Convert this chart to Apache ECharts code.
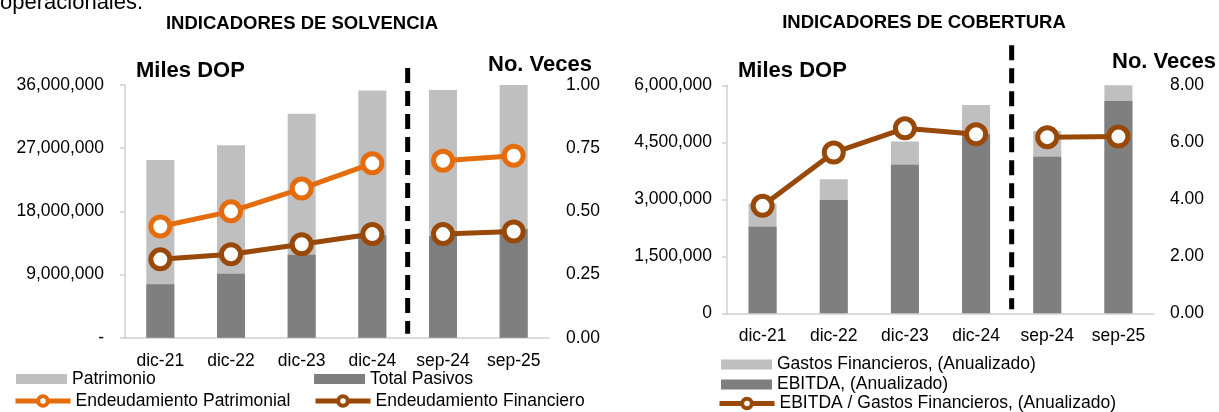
<!DOCTYPE html>
<html>
<head>
<meta charset="utf-8">
<title>Indicadores de solvencia y cobertura</title>
<script src="https://cdn.jsdelivr.net/npm/echarts@6/dist/echarts.min.js"></script>
<style>
    html, body { margin: 0; padding: 0; background: #fff; }
    #div_chart { width: 1219px; height: 412px; }
</style>
</head>
<body>
<div id="div_chart"></div>
<script>
// periodos (los dos ultimos son interinos a septiembre)
var categorias = ['dic-21', 'dic-22', 'dic-23', 'dic-24', 'sep-24', 'sep-25'];

// solvencia, miles DOP y no. veces
var patrimonio = [25300000, 27400000, 31900000, 35200000, 35300000, 36000000];
var totalPasivos = [7600000, 9100000, 11800000, 14600000, 14500000, 15500000];
var endeudamientoPatrimonial = [0.44, 0.50, 0.59, 0.69, 0.70, 0.72];
var endeudamientoFinanciero = [0.31, 0.33, 0.37, 0.41, 0.41, 0.42];

// cobertura, miles DOP y no. veces
var gastosFinancieros = [2890000, 3530000, 4520000, 5480000, 4800000, 6000000];
var ebitda = [2280000, 2980000, 3910000, 4710000, 4120000, 5590000];
var ebitdaGastos = [3.77, 5.64, 6.49, 6.28, 6.18, 6.20];

// marcas de los ejes
var ticksSolvMiles = [0, 9000000, 18000000, 27000000, 36000000];
var ticksSolvVeces = [0, 0.25, 0.5, 0.75, 1];
var ticksCobMiles = [0, 1500000, 3000000, 4500000, 6000000];
var ticksCobVeces = [0, 2, 4, 6, 8];

var FONT = '"Liberation Sans", Arial, sans-serif';
var GRIS_CLARO = '#BFBFBF';
var GRIS_OSCURO = '#7F7F7F';
var NARANJA = '#E46C0A';
var MARRON = '#984807';
var EJE = '#D0D0D0';

// ultimo cierre anual, despues va la linea punteada
var corte = categorias.indexOf('dic-24');

var tramo = function (vals, anual) {
    return vals.map(function (v, i) {
        return (anual ? i <= corte : i > corte) ? v : '-';
    });
};

var miles = function (v) {
    return v.toLocaleString('en-US');
};

var ejeX = function (grid) {
    return {
        type: 'category',
        gridIndex: grid,
        data: categorias,
        axisLine: { lineStyle: { color: EJE, width: 1.5 } },
        axisTick: { alignWithLabel: true, length: 5, lineStyle: { color: EJE, width: 1.5 } },
        axisLabel: { color: '#000', fontSize: 17.5, fontFamily: FONT, margin: 14 }
    };
};

var ejeY = function (grid, ticks, formatter, margin) {
    return {
        type: 'value',
        gridIndex: grid,
        min: ticks[0],
        max: ticks[ticks.length - 1],
        interval: ticks[1] - ticks[0],
        splitLine: { show: false },
        axisLine: { show: true, lineStyle: { color: EJE, width: 1.5 } },
        axisTick: { show: true, length: 5, lineStyle: { color: EJE, width: 1.5 } },
        axisLabel: { color: '#000', fontSize: 17.5, fontFamily: FONT, margin: margin, formatter: formatter }
    };
};

var ejeYDer = function (grid, ticks, margin) {
    return {
        type: 'value',
        gridIndex: grid,
        position: 'right',
        min: ticks[0],
        max: ticks[ticks.length - 1],
        interval: ticks[1] - ticks[0],
        splitLine: { show: false },
        axisLine: { show: false },
        axisTick: { show: false },
        axisLabel: {
            color: '#000', fontSize: 17.5, fontFamily: FONT, margin: margin,
            formatter: function (v) { return v.toFixed(2); }
        }
    };
};

var barra = function (name, data, color, grid) {
    return {
        name: name,
        type: 'bar',
        xAxisIndex: grid,
        yAxisIndex: grid * 2,
        data: data,
        barWidth: 28,
        barGap: '-100%',
        itemStyle: { color: color },
        emphasis: { disabled: true }
    };
};

var linea = function (name, data, color, grid) {
    return {
        name: name,
        type: 'line',
        xAxisIndex: grid,
        yAxisIndex: grid * 2 + 1,
        data: data,
        symbol: 'circle',
        symbolSize: 19,
        lineStyle: { color: color, width: 5 },
        itemStyle: { color: '#fff', borderColor: color, borderWidth: 5 },
        z: 4,
        emphasis: { disabled: true }
    };
};

// linea punteada entre el ultimo cierre y los interinos
var separador = function (grid, sobre) {
    return {
        type: 'custom',
        xAxisIndex: grid,
        yAxisIndex: grid * 2,
        data: [[corte, 0]],
        silent: true,
        z: 5,
        renderItem: function (params, api) {
            var cs = params.coordSys;
            var i = api.value(0);
            var x = (api.coord([i, 0])[0] + api.coord([i + 1, 0])[0]) / 2;
            return {
                type: 'line',
                shape: { x1: x, y1: cs.y - sobre, x2: x, y2: cs.y + cs.height - 4 },
                style: { stroke: '#000', lineWidth: 5, lineDash: [15, 8] }
            };
        }
    };
};

var leyenda = function (name, left, top, line) {
    var l = {
        data: [name],
        left: left,
        top: top,
        padding: 0,
        itemGap: 0,
        itemWidth: line ? 55 : 51,
        itemHeight: line ? 12 : 10,
        selectedMode: false,
        textStyle: { color: '#000', fontSize: 17.5, fontFamily: FONT }
    };
    if (line) {
        l.lineStyle = { width: 5 };
        l.itemStyle = { borderWidth: 4 };
    } else {
        l.icon = 'rect';
    }
    return l;
};

var texto = function (text, left, top, size, bold, align) {
    return {
        text: text,
        left: left,
        top: top,
        padding: 0,
        textAlign: align || 'left',
        textStyle: { color: '#000', fontSize: size, fontWeight: bold ? 'bold' : 'normal', fontFamily: FONT }
    };
};

var initChart = function () {
    var myChart = echarts.init(document.getElementById('div_chart'));
    var option = {
        animation: false,
        textStyle: { fontFamily: FONT },
        title: [
            texto('operacionales.', 0, -8, 22, false),
            texto('INDICADORES DE SOLVENCIA', 302, 14, 18.5, true, 'center'),
            texto('INDICADORES DE COBERTURA', 924, 13, 18.5, true, 'center'),
            texto('Miles DOP', 136, 60, 22, true),
            texto('No. Veces', 488, 54, 22, true),
            texto('Miles DOP', 738, 60, 22, true),
            texto('No. Veces', 1112, 51, 22, true)
        ],
        legend: [
            leyenda('Patrimonio', 16, 370, false),
            leyenda('Total Pasivos', 314, 370, false),
            leyenda('Endeudamiento Patrimonial', 13, 392, true),
            leyenda('Endeudamiento Financiero', 313, 392, true),
            leyenda('Gastos Financieros, (Anualizado)', 721, 355.5, false),
            leyenda('EBITDA, (Anualizado)', 721, 375.5, false),
            leyenda('EBITDA / Gastos Financieros, (Anualizado)', 717, 394.5, true)
        ],
        grid: [
            { left: 125, top: 85, width: 424, height: 252.7 },
            { left: 727, top: 85.3, width: 427, height: 228 }
        ],
        xAxis: [ejeX(0), ejeX(1)],
        yAxis: [
            ejeY(0, ticksSolvMiles, function (v) { return v === 0 ? '-' : miles(v); }, 21),
            ejeYDer(0, ticksSolvVeces, 17),
            ejeY(1, ticksCobMiles, miles, 15),
            ejeYDer(1, ticksCobVeces, 16)
        ],
        series: [
            barra('Patrimonio', patrimonio, GRIS_CLARO, 0),
            barra('Total Pasivos', totalPasivos, GRIS_OSCURO, 0),
            linea('Endeudamiento Patrimonial', tramo(endeudamientoPatrimonial, true), NARANJA, 0),
            linea('Endeudamiento Patrimonial', tramo(endeudamientoPatrimonial, false), NARANJA, 0),
            linea('Endeudamiento Financiero', tramo(endeudamientoFinanciero, true), MARRON, 0),
            linea('Endeudamiento Financiero', tramo(endeudamientoFinanciero, false), MARRON, 0),
            separador(0, 17),

            barra('Gastos Financieros, (Anualizado)', gastosFinancieros, GRIS_CLARO, 1),
            barra('EBITDA, (Anualizado)', ebitda, GRIS_OSCURO, 1),
            linea('EBITDA / Gastos Financieros, (Anualizado)', tramo(ebitdaGastos, true), MARRON, 1),
            linea('EBITDA / Gastos Financieros, (Anualizado)', tramo(ebitdaGastos, false), MARRON, 1),
            separador(1, 40)
        ]
    };
    myChart.setOption(option);
};

initChart();
</script>
</body>
</html>
